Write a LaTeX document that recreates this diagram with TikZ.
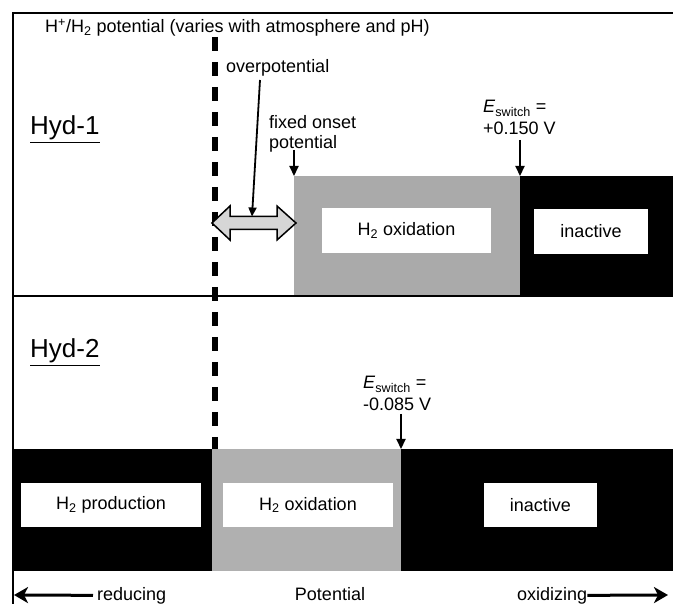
\documentclass[tikz,border=0pt]{standalone}
\usepackage{fontspec}
\setmainfont{Liberation Sans}
\usetikzlibrary{arrows.meta}
\definecolor{bandgray}{RGB}{170,170,170}
\definecolor{bandgrayb}{RGB}{176,176,176}
\definecolor{dblgray}{RGB}{214,214,214}
\begin{document}
\begin{tikzpicture}[x=1pt,y=-1pt,
  txt/.style={inner sep=0pt, font=\fontsize{18}{20}\selectfont},
  hyd/.style={inner sep=0pt, font=\fontsize{26}{28}\selectfont},
  region/.style={inner sep=0pt, outer sep=0pt, anchor=north west, draw=none},
  wbox/.style={fill=white, inner sep=0pt, outer sep=0pt, font=\fontsize{18}{20}\selectfont},
  ptr/.style={line width=2.2pt, -{Triangle[length=10pt,width=9pt]}},
  thinptr/.style={line width=1.8pt, -{Triangle[length=9pt,width=8pt]}},
  bigptr/.style={line width=3pt, -{Stealth[length=14pt,width=16pt,inset=4pt]}},
  frame/.style={line width=2pt},
]
\useasboundingbox (0,0) rectangle (673,604);
\fill[white] (0,0) rectangle (673,604);

% coloured bands
\node[region, fill=bandgray, minimum width=226pt, minimum height=121pt] (ox1) at (294,176) {};
\node[region, fill=black, minimum width=153pt, minimum height=121pt] (in1) at (520,176) {};
\node[region, fill=black, minimum width=199pt, minimum height=122pt] (prod2) at (13,449) {};
\node[region, fill=bandgrayb, minimum width=189pt, minimum height=122pt] (ox2) at (212,449) {};
\node[region, fill=black, minimum width=272pt, minimum height=122pt] (in2) at (401,449) {};

% white labels in bands
\node[wbox, minimum width=169pt, minimum height=45pt] (ox1t) at (406.5,230.5) {H\textsubscript{2} oxidation};
\node[wbox, minimum width=114pt, minimum height=45pt] (in1t) at (591,231.5) {inactive};
\node[wbox, minimum width=180pt, minimum height=44pt] (prod2t) at (111,505) {H\textsubscript{2} production};
\node[wbox, minimum width=170pt, minimum height=44pt] (ox2t) at (308,505) {H\textsubscript{2} oxidation};
\node[wbox, minimum width=113pt, minimum height=44pt] (in2t) at (540.5,505) {inactive};

% frame and separator
\draw[frame] (13,604) -- (13,13) -- (673,13);
\draw[line width=2.5pt] (13,296) -- (673,296);

% dashed H+/H2 potential line
\coordinate (dtop) at (214.5,37);
\coordinate (dbot) at (214.5,449);
\draw[line width=6pt, dash pattern=on 14pt off 11pt] (dtop) -- (dbot);

% texts
\node[txt, anchor=base west] (title) at (45,33) {H\textsuperscript{+}/H\textsubscript{2} potential (varies with atmosphere and pH)};
\node[txt, anchor=base west] (overp) at (226,73) {overpotential};
\node[txt, anchor=base west] (fixed1) at (269,129) {fixed onset};
\node[txt, anchor=base west] (fixed2) at (269,149) {potential};
\node[hyd, anchor=base west] (hyd1) at (30,135) {\underline{Hyd-1}};
\node[hyd, anchor=base west] (hyd2) at (30,358) {\underline{Hyd-2}};
\node[txt, anchor=base west] (esw1) at (483,113) {\textit{E}\textsubscript{switch} =};
\node[txt, anchor=base west] (esw1v) at (483,135) {+0.150 V};
\node[txt, anchor=base west] (esw2) at (363,389) {\textit{E}\textsubscript{switch} =};
\node[txt, anchor=base west] (esw2v) at (363,410) {-0.085 V};

% double arrow (overpotential)
\draw[fill=dblgray, line width=1.5pt, line join=miter]
  (212,223) -- (230,206) -- (230,216.5) -- (277,216.5) -- (277,206) -- (296,223)
  -- (277,240) -- (277,229.5) -- (230,229.5) -- (230,240) -- cycle;
\coordinate (shafttop) at (252,216.5);
\coordinate (opstart) at (260,80);
\draw[thinptr] (opstart) -- (shafttop);

% pointer arrows
\coordinate (fixstart) at (294,150);
\draw[ptr] (fixstart) -- (ox1.north west);
\coordinate (sw1start) at (520,140);
\draw[ptr] (sw1start) -- (in1.north west);
\coordinate (sw2start) at (401,414);
\draw[ptr] (sw2start) -- (in2.north west);

% bottom axis
\node[txt, anchor=base west] (red) at (97,600) {reducing};
\node[txt, anchor=base] (pot) at (330,600) {Potential};
\node[txt, anchor=base west] (oxi) at (517,600) {oxidizing};
\coordinate (leftend) at (14,595);
\coordinate (rightend) at (668,595);
\draw[bigptr] ([xshift=-4pt]red.west) -- (leftend);
\draw[bigptr] (oxi.east) -- (rightend);
\end{tikzpicture}
\end{document}
